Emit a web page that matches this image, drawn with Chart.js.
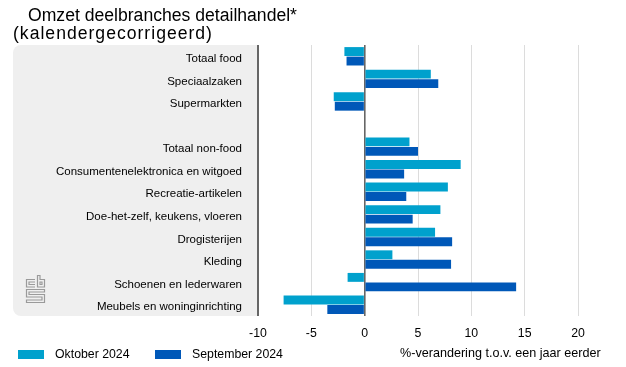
<!DOCTYPE html>
<html>
<head>
<meta charset="utf-8">
<script src="https://cdn.jsdelivr.net/npm/chart.js@4"></script>
<style>
  body { margin: 0; background: #fff; font-family: "Liberation Sans", Arial, sans-serif; }
  #wrap { position: relative; width: 626px; height: 367px; }
  .title { position: absolute; font-size: 17.6px; color: #000; line-height: 20px; white-space: nowrap; }
  .leg { position: absolute; font-size: 12.3px; color: #000; white-space: nowrap; }
  .sw { position: absolute; width: 26px; height: 9px; }
</style>
</head>
<body>
<div id="wrap">
  <canvas id="chart" width="626" height="367"></canvas>
  <div class="title" style="left:28px; top:5px;">Omzet deelbranches detailhandel*</div>
  <div class="title" style="left:13px; top:23px; letter-spacing:1px;">(kalendergecorrigeerd)</div>
  <div class="sw" style="left:18px; top:350px; background:#00a1cd;"></div>
  <div class="leg" style="left:55px; top:347px;">Oktober 2024</div>
  <div class="sw" style="left:155px; top:350px; background:#0058b8;"></div>
  <div class="leg" style="left:192px; top:347px;">September 2024</div>
  <div class="leg" style="left:400px; top:346px; font-size:12.6px;">%-verandering t.o.v. een jaar eerder</div>
</div>
<script>
const categories = [
  "Totaal food", "Speciaalzaken", "Supermarkten", "",
  "Totaal non-food", "Consumentenelektronica en witgoed", "Recreatie-artikelen",
  "Doe-het-zelf, keukens, vloeren", "Drogisterijen", "Kleding",
  "Schoenen en lederwaren", "Meubels en woninginrichting"
];
const oktober2024 = [-1.9, 6.2, -2.9, null, 4.2, 9.0, 7.8, 7.1, 6.6, 2.6, -1.6, -7.6];
const september2024 = [-1.7, 6.9, -2.8, null, 5.0, 3.7, 3.9, 4.5, 8.2, 8.1, 14.2, -3.5];
const xTicks = [-10, -5, 0, 5, 10, 15, 20];

// grey panel behind the labels + cbs logo
const panel = {
  id: "panel",
  beforeDraw(chart) {
    const { ctx, chartArea: a } = chart;
    const x0 = 13, r = 8;
    ctx.save();
    ctx.fillStyle = "#efefef";
    ctx.beginPath();
    ctx.moveTo(a.left, a.top);
    ctx.lineTo(x0 + r, a.top);
    ctx.arcTo(x0, a.top, x0, a.top + r, r);
    ctx.lineTo(x0, a.bottom - r);
    ctx.arcTo(x0, a.bottom, x0 + r, a.bottom, r);
    ctx.lineTo(a.left, a.bottom);
    ctx.closePath();
    ctx.fill();
    ctx.restore();
  },
  afterDraw(chart) {
    const ctx = chart.ctx;
    ctx.save();
    ctx.strokeStyle = "#9a9a9a";
    ctx.lineWidth = 1.2;
    ctx.beginPath();
    // c
    ctx.moveTo(35, 279.5); ctx.lineTo(26.5, 279.5); ctx.lineTo(26.5, 287); ctx.lineTo(35, 287);
    ctx.moveTo(35, 282); ctx.lineTo(29, 282); ctx.lineTo(29, 284.5); ctx.lineTo(35, 284.5);
    // b
    ctx.moveTo(37.5, 275.5); ctx.lineTo(37.5, 287); ctx.lineTo(44.5, 287); ctx.lineTo(44.5, 279.5); ctx.lineTo(40, 279.5); ctx.lineTo(40, 275.5); ctx.closePath();
    ctx.moveTo(40, 282); ctx.lineTo(42, 282); ctx.lineTo(42, 284.5); ctx.lineTo(40, 284.5); ctx.closePath();
    // S
    ctx.moveTo(44.5, 289.5); ctx.lineTo(26.5, 289.5); ctx.lineTo(26.5, 297); ctx.lineTo(42, 297); ctx.lineTo(42, 300); ctx.lineTo(26.5, 300); ctx.lineTo(26.5, 302.5); ctx.lineTo(44.5, 302.5); ctx.lineTo(44.5, 294.5); ctx.lineTo(29, 294.5); ctx.lineTo(29, 292); ctx.lineTo(44.5, 292); ctx.closePath();
    ctx.stroke();
    ctx.restore();
  }
};

new Chart(document.getElementById("chart").getContext("2d"), {
  type: "bar",
  data: {
    labels: categories,
    datasets: [
      { label: "Oktober 2024", data: oktober2024, backgroundColor: "#00a1cd", borderWidth: 0 },
      { label: "September 2024", data: september2024, backgroundColor: "#0058b8", borderWidth: 0 }
    ]
  },
  options: {
    indexAxis: "y",
    responsive: false,
    animation: false,
    layout: { padding: { top: 45, right: 48, left: 0, bottom: 0 } },
    datasets: { bar: { categoryPercentage: 0.84, barPercentage: 0.94 } },
    scales: {
      x: {
        min: -10,
        max: 20,
        afterBuildTicks: (s) => { s.ticks = xTicks.map(v => ({ value: v })); },
        afterFit: (s) => { s.height = 51; },
        border: { display: false },
        grid: {
          drawTicks: false,
          color: (c) => (c.tick && (c.tick.value === -10 || c.tick.value === 0)) ? "#666" : "#dcdcdc",
          lineWidth: (c) => (c.tick && c.tick.value === -10) ? 2 : (c.tick && c.tick.value === 0 ? 1.6 : 1)
        },
        ticks: { color: "#000", font: { family: "Liberation Sans", size: 12.3 }, padding: 10 }
      },
      y: {
        afterFit: (s) => { s.width = 258; },
        grid: { display: false },
        border: { display: false },
        ticks: { color: "#000", font: { family: "Liberation Sans", size: 11.5 }, padding: 8, labelOffset: 2.5 }
      }
    },
    plugins: {
      legend: { display: false },
      tooltip: { enabled: false }
    }
  },
  plugins: [panel]
});
</script>
</body>
</html>
